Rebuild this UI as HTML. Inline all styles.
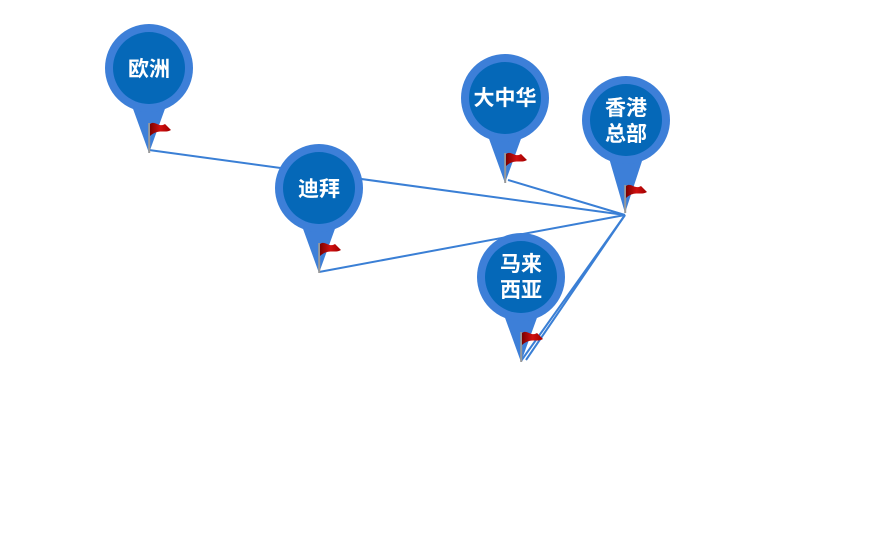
<!DOCTYPE html>
<html><head><meta charset="utf-8"><style>
html,body{margin:0;padding:0;background:#fff;}
svg{display:block;}
text{font-family:"Liberation Sans","Noto Sans CJK SC",sans-serif;font-weight:bold;fill:#fff;text-anchor:middle;}
</style></head><body>
<svg width="889" height="553" viewBox="0 0 889 553" xmlns="http://www.w3.org/2000/svg">
<defs>
<linearGradient id="fl" x1="0" y1="0" x2="1" y2="0">
<stop offset="0" stop-color="#7a0000"/><stop offset="0.5" stop-color="#d01010"/><stop offset="1" stop-color="#a00000"/></linearGradient>
<g id="pin">
<path d="M-17,38 L0,85 L17,38 Z" fill="#3d7fd8"/>
<circle r="44" fill="#3d7fd8"/>
<circle r="36" fill="#0568b8"/>
<rect x="-0.8" y="55" width="2" height="30" fill="#999"/>
<path d="M1,56 C6,52 10,60 16,56 L22,62 C16,66 10,60 1,68 Z" fill="url(#fl)"/>
</g>
<g id="pin2">
<path d="M-17,38 L-1,93 L17,38 Z" fill="#3d7fd8"/>
<circle r="44" fill="#3d7fd8"/>
<circle r="36" fill="#0568b8"/>
<rect x="-1.8" y="65" width="2" height="28" fill="#999"/>
<path d="M0,66 C5,62 9,70 15,66 L21,72 C15,76 9,70 0,78 Z" fill="url(#fl)"/>
</g>
</defs>
<g stroke="#3a7fd5" stroke-width="2" fill="none">
<line x1="149" y1="150" x2="625" y2="215"/>
<line x1="319" y1="272" x2="625" y2="215"/>
<line x1="508" y1="180" x2="625" y2="215"/>
<line x1="521" y1="361" x2="625" y2="215"/>
<line x1="526" y1="360" x2="625" y2="215"/>
</g>
<use href="#pin" x="149" y="68"/>
<use href="#pin" x="319" y="188"/>
<use href="#pin" x="505" y="98"/>
<use href="#pin2" x="626" y="120"/>
<use href="#pin" x="521" y="277"/>
<text x="149" y="76" font-size="21">欧洲</text>
<text x="319" y="196" font-size="21">迪拜</text>
<text x="505" y="105" font-size="21">大中华</text>
<text x="626" y="115" font-size="21">香港</text>
<text x="626" y="141" font-size="21">总部</text>
<text x="521" y="271" font-size="21">马来</text>
<text x="521" y="297" font-size="21">西亚</text>
</svg>
</body></html>
